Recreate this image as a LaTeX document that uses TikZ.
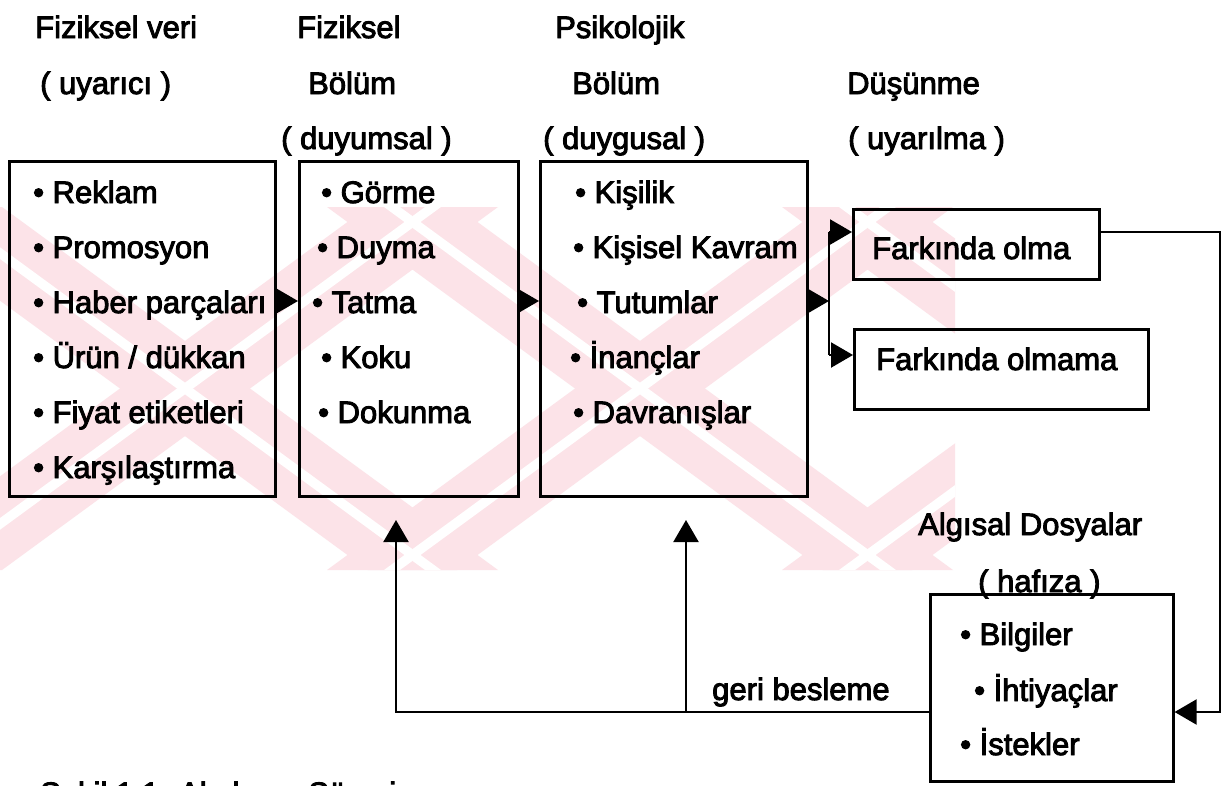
\documentclass[tikz,border=0pt]{standalone}
\usepackage{fontspec}
\setmainfont{Liberation Sans}[FakeBold=3]
\usetikzlibrary{arrows.meta}
\definecolor{wmark}{RGB}{252,227,232}
\tikzset{
  lbl/.style={anchor=base west, inner sep=0pt, font=\fontsize{31}{37}\selectfont},
  box/.style={draw, line width=2.6pt, anchor=north west, inner sep=0pt},
  conn/.style={line width=2.2pt},
  arr/.style={conn, -{Triangle[length=22pt,width=25pt]}},
  band/.style={fill=wmark, draw=none},
  gap/.style={fill=white, draw=none}
}
\begin{document}
\begin{tikzpicture}[x=1pt, y=-1pt]
\useasboundingbox (0,0) rectangle (1224,785);
\fill[white] (0,0) rectangle (1224,785);

% background stamp: crossed diagonal bands, each split by a thin light stripe
\begin{scope}
  \clip (0,207) rectangle (955,570);
  \foreach \cx in {185,640,1095} {
    \fill[band] (\cx-313,207) -- (\cx-183,207) -- (\cx+313,570) -- (\cx+183,570) -- cycle;
    \fill[band] (\cx+183,207) -- (\cx+313,207) -- (\cx-183,570) -- (\cx-313,570) -- cycle;
  }
  \foreach \cx in {185,640,1095} {
    \fill[gap] (\cx-256,207) -- (\cx-240,207) -- (\cx+256,570) -- (\cx+240,570) -- cycle;
    \fill[gap] (\cx+240,207) -- (\cx+256,207) -- (\cx-240,570) -- (\cx-256,570) -- cycle;
  }
\end{scope}

% column headings
\node[lbl] (h1a) at (35,38) {Fiziksel veri};
\node[lbl] (h1b) at (40,94) {( uyarıcı )};
\node[lbl] (h2a) at (297,38) {Fiziksel};
\node[lbl] (h2b) at (308,94) {Bölüm};
\node[lbl] (h2c) at (281,149) {( duyumsal )};
\node[lbl] (h3a) at (555,38) {Psikolojik};
\node[lbl] (h3b) at (572,94) {Bölüm};
\node[lbl] (h3c) at (543,149) {( duygusal )};
\node[lbl] (h4a) at (847,94) {Düşünme};
\node[lbl] (h4b) at (848,149) {( uyarılma )};

% boxes
\node[box, minimum width=266pt, minimum height=335pt] (b1) at (8,160) {};
\node[box, minimum width=219pt, minimum height=335pt] (b2) at (298,160) {};
\node[box, minimum width=267pt, minimum height=335pt] (b3) at (539,160) {};
\node[box, minimum width=246pt, minimum height=70pt] (olma) at (852,208) {};
\node[box, minimum width=294pt, minimum height=80pt] (olmama) at (853,328) {};
\node[box, minimum width=243pt, minimum height=187pt] (alg) at (929,593) {};

% box texts
\node[lbl] (i11) at (33,203) {• Reklam};
\node[lbl] (i12) at (33,258) {• Promosyon};
\node[lbl] (i13) at (33,313) {• Haber parçaları};
\node[lbl] (i14) at (33,368) {• Ürün / dükkan};
\node[lbl] (i15) at (33,423) {• Fiyat etiketleri};
\node[lbl] (i16) at (33,478) {• Karşılaştırma};

\node[lbl] (i21) at (321,203) {• Görme};
\node[lbl] (i22) at (317,258) {• Duyma};
\node[lbl] (i23) at (312,313) {• Tatma};
\node[lbl] (i24) at (321,368) {• Koku};
\node[lbl] (i25) at (318,423) {• Dokunma};

\node[lbl] (i31) at (575,203) {• Kişilik};
\node[lbl] (i32) at (573,258) {• Kişisel Kavram};
\node[lbl] (i33) at (577,313) {• Tutumlar};
\node[lbl] (i34) at (570,368) {• İnançlar};
\node[lbl] (i35) at (573,423) {• Davranışlar};

\node[lbl] (t1) at (872,259) {Farkında olma};
\node[lbl] (t2) at (876,370) {Farkında olmama};

\node[lbl] (alga) at (918,535) {Algısal Dosyalar};
\node[lbl] (algb) at (978,592) {( hafıza )};
\node[lbl] (a1) at (960,645) {• Bilgiler};
\node[lbl] (a2) at (974,701) {• İhtiyaçlar};
\node[lbl] (a3) at (960,755) {• İstekler};

\node[lbl] (fbl) at (712,700) {geri besleme};

% connector points
\coordinate (row) at (0,301);
\coordinate (split) at (829,301);
\coordinate (j1) at (829,232);
\coordinate (j2) at (829,355);
\coordinate (c1) at (1220,232);
\coordinate (c2) at (1220,712);
\coordinate (fb) at (0,712);
\coordinate (f1) at (396,712);
\coordinate (f2) at (686,712);
\coordinate (p1) at (396,520);
\coordinate (p2) at (686,520);

% forward flow
\draw[arr] (b1.east |- row) -- (b2.west |- row);
\draw[arr] (b2.east |- row) -- (b3.west |- row);
\draw[arr] (b3.east |- row) -- (split);
\draw[conn] (j1) -- (j2);
\draw[arr] (j1) -- (olma.west |- j1);
\draw[arr] (j2) -- (olmama.west |- j2);

% into memory and feedback
\draw[arr] (olma.east |- c1) -- (c1) -- (c2) -- (alg.east |- c2);
\draw[arr] (alg.west |- fb) -- (f1) -- (p1);
\draw[arr] (f2) -- (p2);

% caption line at the foot of the page
\begin{scope}
  \clip (0,781) rectangle (1224,785);
  \node[lbl] (cap) at (40,804) {Şekil 1.1: Algılama Süreci};
\end{scope}
\end{tikzpicture}
\end{document}
